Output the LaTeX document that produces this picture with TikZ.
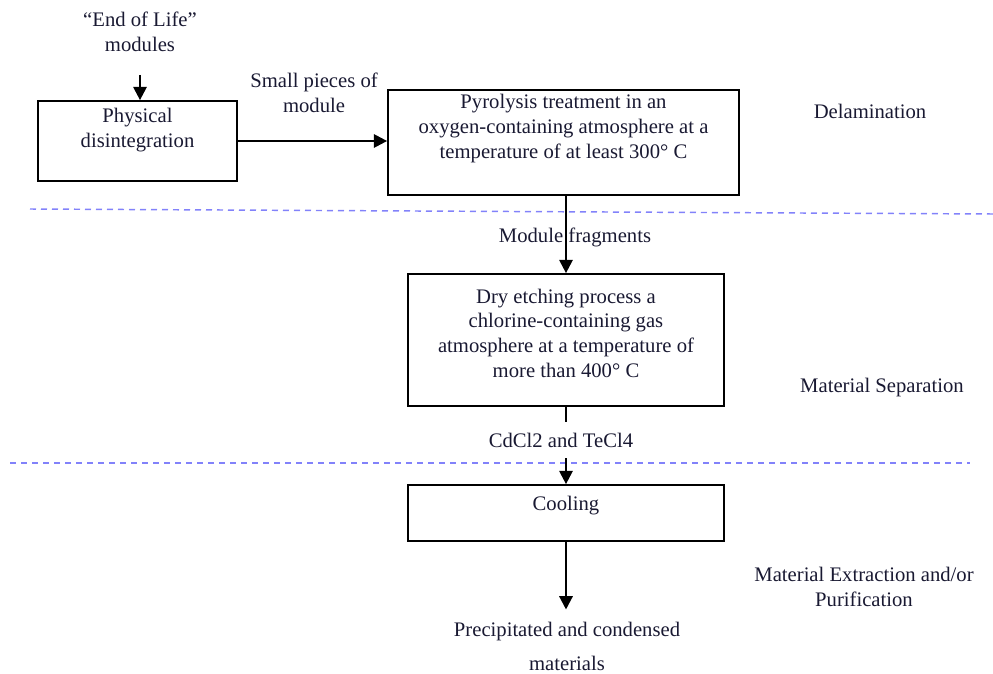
\documentclass[tikz,border=0pt]{standalone}
\usepackage{fontspec}
\setmainfont{Liberation Serif}
\usetikzlibrary{arrows.meta}
\definecolor{ink}{RGB}{25,25,50}
\definecolor{sepblue}{RGB}{130,130,250}
\begin{document}
\begin{tikzpicture}[x=0.75pt,y=-0.75pt,
  txt/.style={font=\fontsize{15.5}{18.5}\selectfont, text=ink, align=center, inner sep=0pt},
  procbox/.style={draw=black, line width=1.3pt, inner sep=0pt},
  plainline/.style={draw=black, line width=1.7pt},
  flow/.style={plainline, -{Triangle[width=10pt,length=10pt]}},
  sepline/.style={draw=sepblue, line width=1.1pt, dash pattern=on 4.5pt off 3.75pt},
]
\path[use as bounding box] (0,0) rectangle (993,674);

% separators
\coordinate (s1a) at (30,209);
\coordinate (s1b) at (993,214);
\coordinate (s2a) at (10,463);
\coordinate (s2b) at (970,463);
\draw[sepline] (s1a) -- (s1b);
\draw[sepline] (s2a) -- (s2b);

% top input
\node[txt] (eol) at (140,32) {“End of Life”\\modules};
\coordinate (a0) at (140,75);

\node[procbox, minimum width=149.25pt, minimum height=60pt,
  label={[txt, yshift=8.25pt]center:Physical\\disintegration}] (phys) at (137.5,141) {};
\draw[flow] (a0) -- (a0 |- phys.north);

\node[procbox, minimum width=263.25pt, minimum height=78.75pt,
  label={[txt, yshift=10.5pt]center:Pyrolysis treatment in an\\oxygen-containing atmosphere at a\\temperature of at least 300° C}] (pyro) at (563.5,142.5) {};

\node[txt] (pieces) at (314,93) {Small pieces of\\module};
\draw[flow] (phys.east) -- (phys.east -| pyro.west);

\node[procbox, minimum width=237pt, minimum height=99pt,
  label={[txt, yshift=5.25pt]center:Dry etching process a\\chlorine-containing gas\\atmosphere at a temperature of\\more than 400° C}] (etch) at (566,340) {};
\draw[flow] (etch.north |- pyro.south) -- (etch.north);
\node[txt] (frag) at (575,237) {Module fragments};

\node[procbox, minimum width=237pt, minimum height=42pt,
  label={[txt, yshift=5.25pt]center:Cooling}] (cool) at (566,513) {};

\coordinate (c1) at (566,422);
\coordinate (c2) at (566,458);
\draw[plainline] (etch.south) -- (c1);
\node[txt] (cd) at (561,440) {CdCl2 and TeCl4};
\draw[flow] (c2) -- (c2 |- cool.north);

\node[txt] (out) at (567,646) {Precipitated and condensed\\[7pt]materials};
\draw[flow, shorten >=9pt] (cool.south) -- (cool.south |- out.north);

% phase labels
\node[txt] (delam) at (870,111) {Delamination};
\node[txt] (msep) at (882,388) {Material Separation};
\node[txt] (mext) at (864,587) {Material Extraction and/or\\Purification};
\end{tikzpicture}
\end{document}
